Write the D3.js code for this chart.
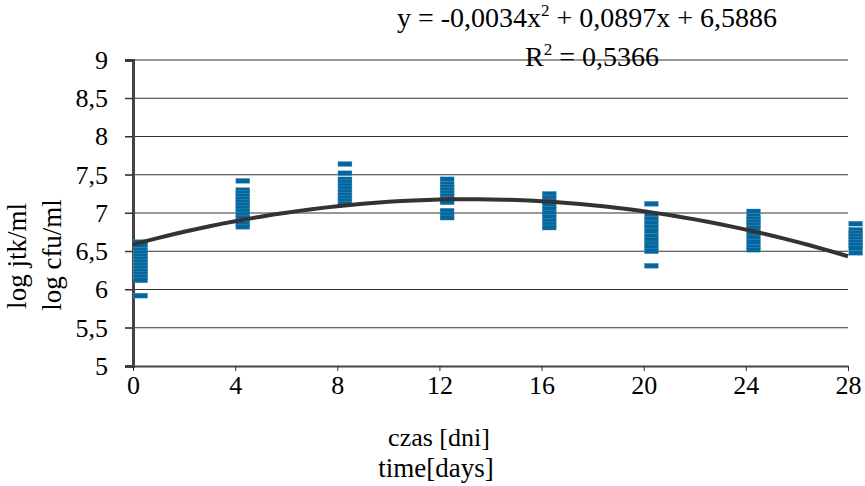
<!DOCTYPE html>
<html>
<head>
<meta charset="utf-8">
<script src="https://cdn.jsdelivr.net/npm/d3@7"></script>
<style>
  body { margin: 0; background: #fff; }
  svg text { font-family: "Liberation Serif", "Times New Roman", serif !important; }
</style>
</head>
<body>
<svg id="canvas" width="865" height="486"></svg>
<script>
let days = [0, 4, 8, 12, 16, 20, 24, 28]
let day0 = [6.62, 6.58, 6.52, 6.48, 6.44, 6.40, 6.36, 6.32, 6.28, 6.24, 6.20, 6.16, 6.12, 5.92]
let day4 = [7.42, 7.30, 7.26, 7.22, 7.18, 7.14, 7.10, 7.06, 7.02, 6.98, 6.94, 6.90, 6.86, 6.82]
let day8 = [7.64, 7.52, 7.44, 7.40, 7.36, 7.32, 7.28, 7.24, 7.20, 7.16, 7.12]
let day12 = [7.44, 7.38, 7.34, 7.30, 7.26, 7.22, 7.18, 7.14, 7.03, 6.98, 6.94]
let day16 = [7.25, 7.20, 7.15, 7.10, 7.05, 7.00, 6.95, 6.90, 6.85, 6.81]
let day20 = [7.12, 6.97, 6.92, 6.87, 6.82, 6.76, 6.70, 6.65, 6.60, 6.55, 6.50, 6.31]
let day24 = [7.02, 6.96, 6.92, 6.88, 6.84, 6.80, 6.74, 6.68, 6.62, 6.56, 6.52]
let day28 = [6.86, 6.78, 6.74, 6.70, 6.66, 6.62, 6.58, 6.54, 6.48]
let columns = [day0, day4, day8, day12, day16, day20, day24, day28]

// trendline coefficients (a, b, c) for y = a x^2 + b x + c
let trendCoef = [-0.0034, 0.0897, 6.5886]
let xTicks = [0, 4, 8, 12, 16, 20, 24, 28]
let yTicks = [5, 5.5, 6, 6.5, 7, 7.5, 8, 8.5, 9]

let canvas = d3.select('#canvas')

var x = d3.scaleLinear().domain([0, 28]).range([133, 848])
var y = d3.scaleLinear().domain([5, 9]).range([366, 60])

let fmt = d => String(d).replace('.', ',')

// gridlines
canvas.append('g')
  .selectAll('line')
  .data(yTicks.filter(d => d > 5))
  .enter()
  .append('line')
  .attr('x1', 125).attr('x2', 848)
  .attr('y1', d => y(d)).attr('y2', d => y(d))
  .attr('stroke', '#333')
  .attr('stroke-width', 1)

// y axis
let yAxis = canvas.append('g')
  .attr('transform', 'translate(133,0)')
  .call(d3.axisLeft(y).tickValues(yTicks).tickFormat(fmt).tickSize(8).tickPadding(17))
yAxis.select('.domain').attr('stroke', '#444').attr('stroke-width', 3)
yAxis.selectAll('.tick line').attr('stroke', '#333')
yAxis.selectAll('text').attr('font-size', 26).attr('fill', '#000')

// x axis
let xAxis = canvas.append('g')
  .attr('transform', 'translate(0,366)')
  .call(d3.axisBottom(x).tickValues(xTicks).tickFormat(fmt).tickSize(5).tickSizeOuter(0).tickPadding(5))
xAxis.select('.domain').attr('stroke', '#444').attr('stroke-width', 2)
xAxis.selectAll('.tick line').attr('stroke', '#333')
xAxis.selectAll('text').attr('font-size', 26).attr('fill', '#000')

// points, drawn as dashes
let points = []
columns.forEach((col, i) => {
  col.forEach(v => points.push({ day: days[i] + 0.3, v: v }))
})
canvas.append('g')
  .selectAll('rect')
  .data(points)
  .enter()
  .append('rect')
  .attr('x', d => x(d.day) - 7)
  .attr('y', d => y(d.v) - 2.5)
  .attr('width', 14)
  .attr('height', 5)
  .attr('fill', '#03679e')
  .attr('stroke', '#6fa6c6')
  .attr('stroke-width', 0.3)

// trendline
let trend = d3.range(0, 28.01, 0.5).map(t => [t, trendCoef[0] * t * t + trendCoef[1] * t + trendCoef[2]])
canvas.append('path')
  .datum(trend)
  .attr('d', d3.line().x(d => x(d[0])).y(d => y(d[1])))
  .attr('fill', 'none')
  .attr('stroke', '#333')
  .attr('stroke-width', 4)

// equation
let eq = canvas.append('text')
  .attr('x', 587).attr('y', 27)
  .attr('text-anchor', 'middle')
  .attr('font-size', 28)
eq.append('tspan').text('y = -0,0034x')
eq.append('tspan').text('2').attr('font-size', 17).attr('dy', -11)
eq.append('tspan').text(' + 0,0897x + 6,5886').attr('dy', 11)

let r2 = canvas.append('text')
  .attr('x', 592).attr('y', 66)
  .attr('text-anchor', 'middle')
  .attr('font-size', 28)
r2.append('tspan').text('R')
r2.append('tspan').text('2').attr('font-size', 17).attr('dy', -11)
r2.append('tspan').text(' = 0,5366').attr('dy', 11)

// axis titles
canvas.append('text')
  .attr('x', 439).attr('y', 446)
  .attr('text-anchor', 'middle')
  .attr('font-size', 26)
  .text('czas [dni]')
canvas.append('text')
  .attr('x', 436).attr('y', 477)
  .attr('text-anchor', 'middle')
  .attr('font-size', 27)
  .text('time[days]')

canvas.append('text')
  .attr('transform', 'translate(26,256) rotate(-90)')
  .attr('text-anchor', 'middle')
  .attr('font-size', 27)
  .text('log jtk/ml')
canvas.append('text')
  .attr('transform', 'translate(61,255) rotate(-90)')
  .attr('text-anchor', 'middle')
  .attr('font-size', 27)
  .text('log cfu/ml')
</script>
</body>
</html>
